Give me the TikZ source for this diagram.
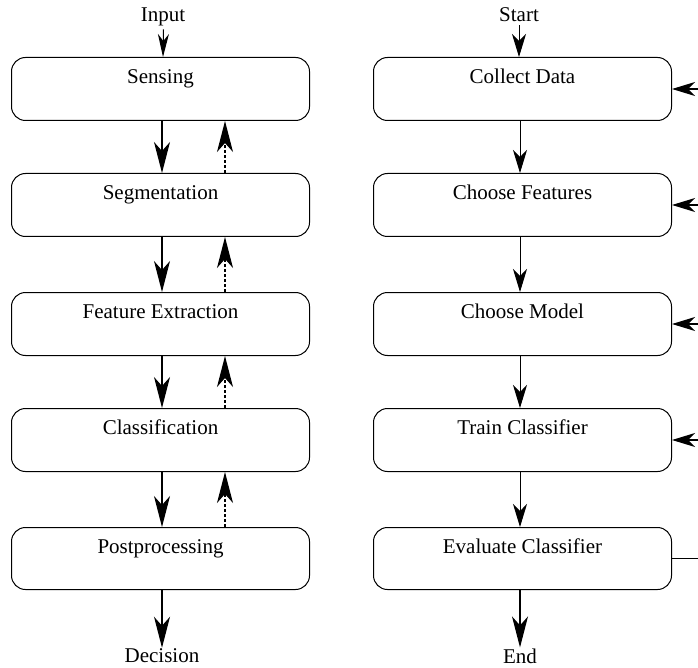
\documentclass[tikz,border=0pt]{standalone}
\usepackage{fontspec}
\setmainfont{Liberation Serif}
\usetikzlibrary{arrows.meta}
\begin{document}
\begin{tikzpicture}[x=1pt,y=-1pt,
  box/.style={draw, line width=1pt, rounded corners=14pt, minimum width=298pt,
    inner sep=0pt, text height=26pt, text depth=37pt, anchor=north,
    font=\fontsize{21}{25}\selectfont},
  lbl/.style={inner sep=3pt, font=\fontsize{21}{25}\selectfont},
  bigtip/.style={-{Stealth[length=31pt,width=16pt,inset=9pt]}},
  smalltip/.style={-{Stealth[length=23pt,width=14pt,inset=7pt]}},
  inptip/.style={-{Stealth[length=23pt,width=11pt,inset=7pt]}},
  mainarr/.style={bigtip, line width=1.2pt},
  fbarr/.style={bigtip, line width=1.2pt, dash pattern=on 3pt off 2pt},
  rarr/.style={smalltip, line width=1pt}]
\useasboundingbox (0,0) rectangle (698,668);
\clip (0,0) rectangle (698,668);
% left column
\node[box] (sens) at (160.5,57) {Sensing};
\node[box] (seg)  at (160.5,173) {Segmentation};
\node[box] (feat) at (160.5,292) {Feature Extraction};
\node[box] (cls)  at (160.5,408) {Classification};
\node[box, text depth=36pt] (post) at (160.5,527) {Postprocessing};
\node[lbl] (inp) at (163,17) {Input};
\node[lbl] (dec) at (162,656) {Decision};
% right column
\node[box] (coll) at (522.5,57) {Collect Data};
\node[box] (chf)  at (522.5,173) {Choose Features};
\node[box] (chm)  at (522.5,292) {Choose Model};
\node[box] (trn)  at (522.5,408) {Train Classifier};
\node[box, text depth=36pt] (evl) at (522.5,527) {Evaluate Classifier};
\node[lbl] (start) at (519,15) {Start};
\node[lbl] (endn) at (520,656) {End};
\coordinate (bus) at (705,0);
% left arrows
\draw[inptip, line width=1pt] ([xshift=0.5pt]inp.south) -- ([xshift=2.5pt]sens.north);
\foreach \a/\b in {sens/seg, seg/feat, feat/cls, cls/post}{
  \draw[mainarr] ([xshift=1.5pt]\a.south) -- ([xshift=1.5pt]\b.north);
  \draw[fbarr] ([xshift=64.5pt]\b.north) -- ([xshift=64.5pt]\a.south);
}
\draw[mainarr] ([xshift=1.5pt]post.south) -- ([xshift=0pt,yshift=-2pt]dec.north);
% right arrows
\draw[rarr] (start.south) -- ([xshift=-3.5pt]coll.north);
\foreach \a/\b in {coll/chf, chf/chm, chm/trn, trn/evl}{
  \draw[rarr] ([xshift=-2.5pt]\a.south) -- ([xshift=-2.5pt]\b.north);
}
\draw[mainarr] ([xshift=-2.5pt]evl.south) -- ([yshift=-2pt]endn.north);
% feedback bus
\draw[line width=1.2pt] (evl.east) -- (evl.east -| bus) -- (coll.east -| bus);
\foreach \n in {coll, chf, chm, trn}{
  \draw[smalltip, line width=1.2pt] (\n.east -| bus) -- (\n.east);
}
\end{tikzpicture}
\end{document}
